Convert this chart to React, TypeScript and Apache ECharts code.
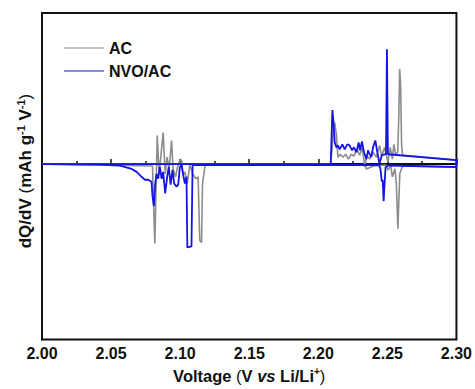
import React, { useEffect, useRef } from "react";
import * as echarts from "echarts";

// x: voltage (V), y: dQ/dV (arbitrary units)
const acVoltage = [
  2.0, 2.1, 2.2088, 2.21, 2.2112, 2.2119, 2.2131, 2.2142, 2.216, 2.2179, 2.2198, 2.2218, 2.2239, 2.2258, 2.228, 2.2299,
  2.2319, 2.2336, 2.2352, 2.2372, 2.2396, 2.242, 2.2444, 2.2458, 2.248, 2.2504, 2.2521, 2.2536, 2.2547, 2.256, 2.2575,
  2.2583, 2.2589, 2.2596, 2.2603, 2.261, 2.3,
  2.3, 2.261, 2.259, 2.2576, 2.2565, 2.2555, 2.2536, 2.2525, 2.2504, 2.249, 2.24, 2.2348, 2.234, 2.1185, 2.1179, 2.1162,
  2.1155, 2.1142, 2.113, 2.1114, 2.1094, 2.107, 2.1051, 2.1034, 2.1022, 2.101, 2.0998, 2.0981, 2.0967, 2.0949, 2.0938,
  2.092, 2.0906, 2.0892, 2.0877, 2.086, 2.0848, 2.0834, 2.0817, 2.0805, 2.08, 2.06, 2.03, 2.0,
];
const acValue = [
  0, 0, 0, 15, 42, 42, 30, 7, 10, 7, 10, 5, 10, 8, 15, 9,
  17, -3, 9, 5, 12, 7, 19, 8, 17, 2, 17, 5, 20, 10, 12,
  50, 97, 80, 20, 9, 4,
  -3, -2, -10, -66, -20, -5, -13, -2, -6, -1, -2, -5, -1, -1, -3, -20,
  -80, -78, -13, -15, -11, -1, -20, -8, -11, 4, 4, -3, -13, -5, 24,
  -6, 7, -10, 32, 7, -10, 29, -81, -30, -2, -1.5, -1, 0,
];

const nvoVoltage = [
  2.0, 2.1, 2.209, 2.2102, 2.2109, 2.2119, 2.2131, 2.2142, 2.2155, 2.2174, 2.2191, 2.221, 2.2227, 2.2244, 2.2258, 2.2276,
  2.2292, 2.2302, 2.2316, 2.2331, 2.2348, 2.236, 2.2372, 2.2384, 2.2396, 2.2413, 2.2425, 2.2437, 2.2442, 2.246, 2.249,
  2.2497, 2.2504, 2.3,
  2.3, 2.251, 2.2487, 2.248, 2.2473, 2.2466, 2.246, 2.245, 2.244, 2.243, 2.109, 2.1082, 2.1052, 2.1046, 2.1034, 2.1022,
  2.101, 2.0998, 2.0986, 2.0974, 2.0957, 2.0945, 2.0931, 2.0918, 2.0906, 2.0892, 2.0877, 2.0866, 2.0853, 2.0841, 2.0829,
  2.0819, 2.081, 2.08, 2.0793, 2.0769, 2.0745, 2.0721, 2.0685, 2.0649, 2.0564, 2.0492, 2.0419, 2.0,
];
const nvoValue = [
  0, 0, 0, 55, 45, 22, 17, 19, 15, 20, 15, 20, 19, 14, 17, 12,
  22, 14, 23, 12, 5, 14, 10, 7, 17, 24, 14, 5, 0, 9, 10,
  117, 10, 4,
  -3, -1.5, -3, -20, -38, -16, -18, -5, -1, -1, -1, -84, -85, -13, -20, -11,
  -1, -3, -21, -23, -20, -6, -21, -3, -13, -30, -8, -15, -3, -15, -10,
  -21, -43, -33, -18, -16, -16, -13, -8, -5, -1.5, -1, -0.5, 0,
];

const xTicks = [2.0, 2.05, 2.1, 2.15, 2.2, 2.25, 2.3];

const pairs = (xs: number[], ys: number[]) => xs.map((x, i) => [x, ys[i]]);

export default function App() {
  const ref = useRef<HTMLDivElement>(null);
  useEffect(() => {
    if (!ref.current) return;
    const chart = echarts.init(ref.current, null, { renderer: "svg" });
    const font = "Liberation Sans, Arial, sans-serif";
    chart.setOption({
      animation: false,
      backgroundColor: "#ffffff",
      grid: {
        left: 42,
        right: 18,
        top: 13,
        bottom: 43,
        show: true,
        borderColor: "#111",
        borderWidth: 2,
        backgroundColor: "transparent",
      },
      legend: {
        orient: "vertical",
        left: 59,
        top: 35,
        itemWidth: 40,
        itemHeight: 14,
        itemGap: 7,
        icon: "path://M0,7 L40,7 L40,8 L0,8 Z",
        textStyle: { fontFamily: font, fontWeight: "bold", fontSize: 16, color: "#111", lineHeight: 16 },
        data: [
          { name: "AC", itemStyle: { color: "#8c8c8c" } },
          { name: "NVO/AC", itemStyle: { color: "#1414e6" } },
        ],
      },
      graphic: [
        {
          type: "text",
          x: 25,
          y: 171,
          rotation: Math.PI / 2,
          style: {
            text: "{n|dQ/dV }{p|(}{n|mAh g}{s|-1}{n| V}{s|-1}{p|)}",
            align: "center",
            verticalAlign: "middle",
            fill: "#111",
            rich: {
              n: { fontFamily: font, fontWeight: "bold", fontSize: 17, fill: "#111", lineHeight: 19 },
              p: { fontFamily: font, fontWeight: "normal", fontSize: 17, fill: "#111", lineHeight: 19 },
              s: { fontFamily: font, fontWeight: "bold", fontSize: 11, fill: "#111", verticalAlign: "top", lineHeight: 11 },
            },
          },
        },
      ],
      xAxis: {
        type: "value",
        min: 2.0,
        max: 2.3,
        interval: 0.05,
        axisLine: { show: true, lineStyle: { color: "#111", width: 2 } },
        axisTick: { show: true, inside: true, length: 5, lineStyle: { color: "#111", width: 1.5 } },
        minorTick: { show: true, splitNumber: 2, length: 3, lineStyle: { color: "#111", width: 1.5 } },
        splitLine: { show: false },
        axisLabel: {
          formatter: (v: number) => {
            const t = xTicks.find((k) => Math.abs(k - v) < 1e-6);
            return t !== undefined ? t.toFixed(2) : "";
          },
          fontFamily: font,
          fontWeight: "bold",
          fontSize: 16,
          color: "#111",
          margin: 6,
        },
        name: "{n|Voltage }{p|(}{n|V }{i|vs}{n| Li/Li}{s|+}{p|)}",
        nameLocation: "middle",
        nameGap: 22,
        nameTextStyle: {
          fontFamily: font,
          fontWeight: "bold",
          fontSize: 16,
          color: "#111",
          rich: {
            n: { fontFamily: font, fontWeight: "bold", fontSize: 16.5, color: "#111", lineHeight: 18 },
            p: { fontFamily: font, fontWeight: "normal", fontSize: 16.5, color: "#111", lineHeight: 18 },
            i: { fontFamily: font, fontWeight: "bold", fontStyle: "italic", fontSize: 16.5, color: "#111", lineHeight: 18 },
            s: { fontFamily: font, fontWeight: "bold", fontSize: 10, color: "#111", verticalAlign: "top", lineHeight: 10 },
          },
        },
      },
      yAxis: {
        type: "value",
        min: -179,
        max: 154,
        axisLine: { show: true, lineStyle: { color: "#111", width: 2 } },
        axisTick: { show: false },
        axisLabel: { show: false },
        splitLine: { show: false },
      },
      series: [
        {
          name: "AC",
          type: "line",
          data: pairs(acVoltage, acValue),
          symbol: "none",
          showSymbol: false,
          lineStyle: { color: "#8c8c8c", width: 1.6 },
          itemStyle: { color: "#8c8c8c" },
          z: 2,
        },
        {
          name: "NVO/AC",
          type: "line",
          data: pairs(nvoVoltage, nvoValue),
          symbol: "none",
          showSymbol: false,
          lineStyle: { color: "#1414e6", width: 1.8 },
          itemStyle: { color: "#1414e6" },
          z: 3,
        },
      ],
    });
    return () => chart.dispose();
  }, []);
  return <div ref={ref} style={{ width: 475, height: 389, position: "absolute", left: 0, top: 0 }} />;
}
